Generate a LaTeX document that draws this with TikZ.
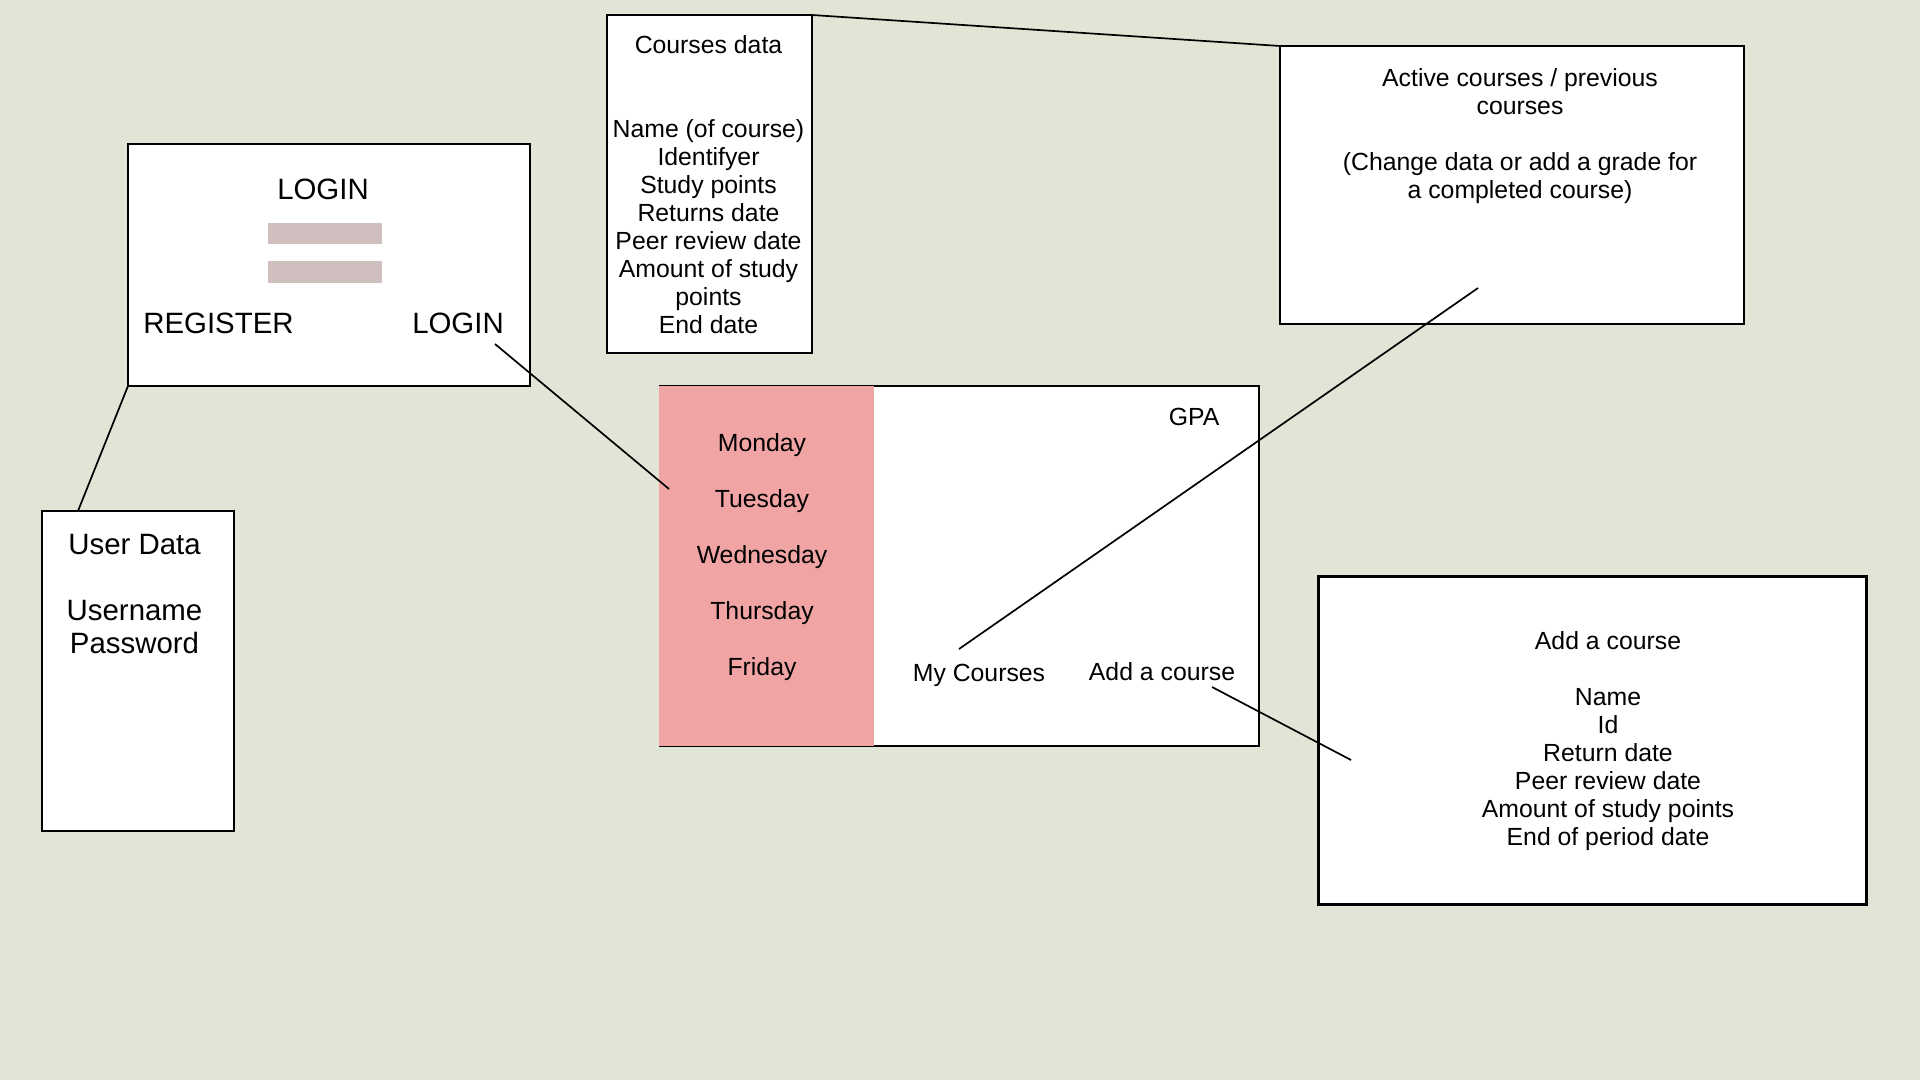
\documentclass[tikz,border=0pt]{standalone}
\usepackage{fontspec}
\setmainfont{Liberation Sans}

\definecolor{pagebg}{RGB}{225,229,214}
\definecolor{daypink}{RGB}{240,164,164}
\definecolor{fieldgrey}{RGB}{207,192,191}

\tikzset{
  screen/.style={draw=black, line width=1.45pt, fill=white, inner sep=0pt, outer sep=0pt},
  link/.style={draw=black, line width=0.85pt},
  bigtxt/.style={inner sep=0pt, font=\fontsize{14.7}{16.5}\selectfont},
  smalltxt/.style={inner sep=0pt, font=\fontsize{12.4}{14}\selectfont}
}

\begin{document}
\begin{tikzpicture}[x=0.5pt, y=0.5pt, yscale=-1]

  % page
  \fill[pagebg] (0,0) rectangle (1920,1080);
  \useasboundingbox (0,0) rectangle (1920,1080);

  % login screen
  \node[screen, minimum width=201pt, minimum height=121pt] (login) at (329,265) {};
  \node[bigtxt, anchor=base] (logintitle) at (323,200) {LOGIN};
  \fill[fieldgrey] (268,223) rectangle (382,244);
  \fill[fieldgrey] (268,261) rectangle (382,283);
  \node[bigtxt, anchor=base] (register) at (218.5,334) {REGISTER};
  \node[bigtxt, anchor=base] (loginbtn) at (458,334) {LOGIN};

  % user data
  \node[screen, minimum width=96pt, minimum height=160pt] (user) at (138,671) {};
  \node[bigtxt, align=center] (usertext) at (134.5,593.7) {User Data\\ \\Username\\Password};

  % courses data
  \node[screen, minimum width=102.5pt, minimum height=169pt] (courses) at (709.5,184) {};
  \node[smalltxt, align=center] (coursestext) at (708.5,185) {Courses data\\ \\ \\Name (of course)\\Identifyer\\Study points\\Returns date\\Peer review date\\Amount of study\\points\\End date};

  % active courses
  \node[screen, minimum width=232pt, minimum height=139pt] (active) at (1512,185) {};
  \node[smalltxt, align=center] (activetext) at (1520,136.4) {Active courses / previous\\courses\\ \\(Change data or add a grade for\\a completed course)};

  % main screen
  \node[screen, minimum width=299.5pt, minimum height=180pt] (main) at (959.5,566) {};
  \fill[daypink] ([xshift=-0.75pt]main.north west) rectangle ([xshift=107pt]main.south west);
  \node[smalltxt, anchor=base] (monday) at (762,451) {Monday};
  \node[smalltxt, anchor=base] (tuesday) at (762,507) {Tuesday};
  \node[smalltxt, anchor=base] (wednesday) at (762,563) {Wednesday};
  \node[smalltxt, anchor=base] (thursday) at (762,619) {Thursday};
  \node[smalltxt, anchor=base] (friday) at (762,675) {Friday};
  \node[smalltxt, anchor=base] (gpa) at (1194,425) {GPA};
  \node[smalltxt, anchor=base] (mycourses) at (979,681.5) {My Courses};
  \node[smalltxt, anchor=base] (addlink) at (1162,680.5) {Add a course};

  % add a course
  \node[screen, minimum width=273.7pt, minimum height=164.1pt] (addcourse) at (1592.5,740.8) {};
  \node[smalltxt, align=center] (addtext) at (1608,741) {Add a course\\ \\Name\\Id\\Return date\\Peer review date\\Amount of study points\\End of period date};

  % connector ends
  \coordinate (loginend) at (495,344);
  \coordinate (weekend) at (669,489);
  \coordinate (myend) at (959,649);
  \coordinate (activeend) at (1478,288);
  \coordinate (addend) at (1212,687);
  \coordinate (addboxend) at (1351,760);

  % connectors
  \draw[link] (login.south west) -- ([xshift=18pt]user.north west);
  \draw[link] (loginend) -- (weekend);
  \draw[link] (courses.north east) -- (active.north west);
  \draw[link] (myend) -- (activeend);
  \draw[link] (addend) -- (addboxend);

\end{tikzpicture}
\end{document}
